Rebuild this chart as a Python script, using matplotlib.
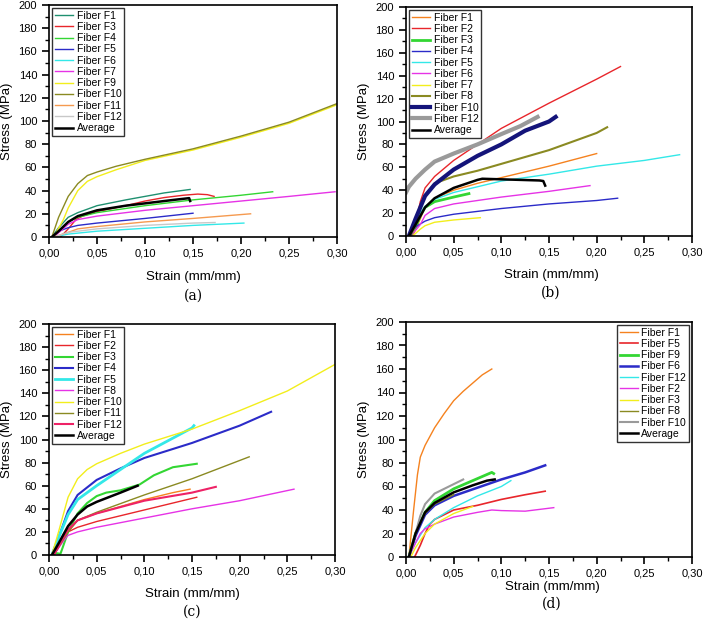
import matplotlib
matplotlib.use("Agg")
import matplotlib.pyplot as plt
from matplotlib.ticker import MultipleLocator, FuncFormatter

plt.rcParams['font.family'] = ['Liberation Sans', 'DejaVu Sans']

# ---------------- Panel (a) ----------------
A_LABELS = ["Fiber F1", "Fiber F3", "Fiber F4", "Fiber F5", "Fiber F6", "Fiber F7",
            "Fiber F9", "Fiber F10", "Fiber F11", "Fiber F12", "Average"]
A_STRAIN = [
    [0.003, 0.01, 0.02, 0.03, 0.05, 0.08, 0.10, 0.12, 0.147],
    [0.012, 0.02, 0.028, 0.035, 0.05, 0.08, 0.10, 0.12, 0.14, 0.155, 0.165, 0.172],
    [0.003, 0.02, 0.03, 0.05, 0.10, 0.15, 0.20, 0.233],
    [0.003, 0.01, 0.02, 0.03, 0.05, 0.10, 0.15],
    [0.005, 0.02, 0.05, 0.10, 0.15, 0.203],
    [0.005, 0.02, 0.03, 0.05, 0.10, 0.15, 0.20, 0.25, 0.298],
    [0.005, 0.015, 0.02, 0.03, 0.04, 0.05, 0.07, 0.10, 0.15, 0.20, 0.25, 0.30],
    [0.003, 0.01, 0.02, 0.03, 0.04, 0.05, 0.07, 0.10, 0.15, 0.20, 0.25, 0.30],
    [0.005, 0.02, 0.03, 0.05, 0.10, 0.15, 0.21],
    [0.005, 0.02, 0.04, 0.05, 0.10, 0.15, 0.173],
    [0.003, 0.01, 0.02, 0.03, 0.05, 0.08, 0.10, 0.13, 0.146, 0.147],
]
A_STRESS = [
    [0, 8, 17, 21, 27, 32, 35, 38, 41],
    [0, 7, 15, 18, 22, 27, 31, 34, 36, 37, 36.5, 35],
    [0, 13, 17, 21, 27, 32, 36, 39],
    [0, 5, 8, 10, 12, 16, 20.5],
    [0, 2.5, 5, 7.5, 10, 12],
    [0, 11, 15, 18, 23, 27, 31, 35, 39],
    [0, 15, 25, 40, 48, 52, 58, 66, 75, 86, 98, 114],
    [0, 17, 35, 46, 53, 56, 61, 67, 76, 87, 99, 115],
    [0, 4, 7, 9, 13, 16, 20],
    [0, 4, 6, 7, 10, 12, 12.5],
    [0, 5, 13, 18, 23, 27, 29, 32, 33.5, 31],
]
A_COLORS = ['#1f9070', '#e8262b', '#33d633', '#2b2bc8', '#33e8e8', '#e633e6',
            '#f2ee1c', '#8a8a22', '#f59a50', '#c8c8c8', '#000000']

# ---------------- Panel (b) ----------------
B_LABELS = ["Fiber F1", "Fiber F2", "Fiber F3", "Fiber F4", "Fiber F5", "Fiber F6",
            "Fiber F7", "Fiber F8", "Fiber F10", "Fiber F12", "Average"]
B_STRAIN = [
    [0.007, 0.015, 0.02, 0.03, 0.05, 0.075, 0.10, 0.15, 0.20],
    [0.005, 0.01, 0.015, 0.02, 0.03, 0.05, 0.075, 0.10, 0.15, 0.20, 0.225],
    [0.005, 0.01, 0.015, 0.02, 0.03, 0.05, 0.066],
    [0.003, 0.01, 0.02, 0.03, 0.05, 0.10, 0.15, 0.20, 0.222],
    [0.005, 0.015, 0.02, 0.03, 0.05, 0.10, 0.15, 0.20, 0.25, 0.287],
    [0.005, 0.015, 0.02, 0.03, 0.05, 0.10, 0.15, 0.193],
    [0.007, 0.015, 0.02, 0.03, 0.05, 0.078],
    [0.005, 0.01, 0.015, 0.02, 0.03, 0.05, 0.075, 0.10, 0.15, 0.20, 0.211],
    [0.003, 0.01, 0.02, 0.03, 0.05, 0.075, 0.10, 0.125, 0.15, 0.157],
    [0.0, 0.003, 0.01, 0.02, 0.03, 0.05, 0.075, 0.10, 0.12, 0.138],
    [0.003, 0.01, 0.02, 0.03, 0.05, 0.075, 0.08, 0.10, 0.12, 0.14, 0.144, 0.146],
]
B_STRESS = [
    [0, 15, 25, 33, 40, 46, 51, 61, 72],
    [0, 10, 30, 42, 52, 66, 80, 94, 116, 137, 148],
    [0, 8, 18, 25, 30, 34, 37],
    [0, 8, 13, 16, 19, 24, 28, 31, 33],
    [0, 20, 26, 32, 38, 48, 54, 61, 66, 71],
    [0, 10, 18, 24, 28, 34, 39, 44],
    [0, 6, 9, 12, 14, 16],
    [0, 10, 25, 35, 46, 52, 57, 63, 75, 90, 95],
    [0, 15, 35, 45, 58, 70, 80, 92, 100, 104],
    [38, 43, 50, 58, 65, 72, 80, 89, 96, 104],
    [0, 10, 25, 33, 42, 49, 50, 49.5, 49, 48.5, 48, 44],
]
B_COLORS = ['#f5821f', '#e8262b', '#33d633', '#2b2bc8', '#33e8e8', '#e633e6',
            '#f2ee1c', '#8a8a22', '#14147a', '#9a9a9a', '#000000']
B_WIDTHS = [1, 1, 2, 1, 1, 1, 1, 1.5, 3, 3, 1.8]

# ---------------- Panel (c) ----------------
C_LABELS = ["Fiber F1", "Fiber F2", "Fiber F3", "Fiber F4", "Fiber F5", "Fiber F8",
            "Fiber F10", "Fiber F11", "Fiber F12", "Average"]
C_STRAIN = [
    [0.005, 0.02, 0.03, 0.05, 0.10, 0.13, 0.148],
    [0.005, 0.015, 0.02, 0.03, 0.05, 0.10, 0.155],
    [0.003, 0.005, 0.012, 0.015, 0.02, 0.03, 0.04, 0.05, 0.06, 0.075, 0.095, 0.11, 0.13, 0.155],
    [0.003, 0.01, 0.02, 0.03, 0.05, 0.075, 0.10, 0.15, 0.20, 0.233],
    [0.003, 0.01, 0.02, 0.03, 0.05, 0.075, 0.10, 0.125, 0.15, 0.152],
    [0.005, 0.015, 0.02, 0.03, 0.05, 0.10, 0.15, 0.20, 0.257],
    [0.003, 0.01, 0.02, 0.03, 0.04, 0.05, 0.075, 0.10, 0.15, 0.20, 0.25, 0.30],
    [0.005, 0.02, 0.03, 0.05, 0.10, 0.15, 0.21],
    [0.005, 0.02, 0.03, 0.05, 0.10, 0.15, 0.175],
    [0.003, 0.01, 0.02, 0.03, 0.04, 0.05, 0.075, 0.093],
]
C_STRESS = [
    [0, 20, 30, 36, 48, 54, 57],
    [0, 15, 20, 24, 29, 39, 50],
    [0, 2, 1, 8, 20, 36, 45, 51, 54, 56, 61, 69, 76, 79],
    [0, 15, 38, 52, 65, 75, 84, 97, 112, 124],
    [0, 15, 35, 48, 60, 74, 88, 99, 110, 112],
    [0, 12, 17, 20, 24, 32, 40, 47, 57],
    [0, 20, 50, 66, 74, 79, 88, 96, 109, 125, 142, 165],
    [0, 20, 30, 37, 52, 66, 85],
    [0, 22, 30, 36, 47, 54, 59],
    [0, 10, 25, 35, 42, 46, 54, 60],
]
C_COLORS = ['#f5821f', '#e8262b', '#33d633', '#2b2bc8', '#33e8e8', '#e633e6',
            '#f2ee1c', '#8a8a22', '#ee2266', '#000000']
C_WIDTHS = [1, 1, 1.5, 1.5, 2, 1, 1, 1, 1.5, 1.8]

# ---------------- Panel (d) ----------------
D_LABELS = ["Fiber F1", "Fiber F5", "Fiber F9", "Fiber F6", "Fiber F12", "Fiber F2",
            "Fiber F3", "Fiber F8", "Fiber F10", "Average"]
D_STRAIN = [
    [0.003, 0.008, 0.012, 0.015, 0.02, 0.03, 0.04, 0.05, 0.06, 0.07, 0.08, 0.09],
    [0.009, 0.015, 0.02, 0.025, 0.03, 0.05, 0.075, 0.10, 0.125, 0.146],
    [0.003, 0.01, 0.02, 0.03, 0.05, 0.07, 0.09, 0.092],
    [0.003, 0.01, 0.02, 0.03, 0.05, 0.075, 0.10, 0.125, 0.146],
    [0.003, 0.01, 0.02, 0.03, 0.05, 0.075, 0.10, 0.11],
    [0.003, 0.01, 0.015, 0.02, 0.03, 0.05, 0.075, 0.09, 0.10, 0.125, 0.14, 0.155],
    [0.005, 0.01, 0.02, 0.03, 0.05, 0.07],
    [0.003, 0.01, 0.02, 0.03, 0.05],
    [0.003, 0.01, 0.015, 0.02, 0.03, 0.04, 0.05, 0.06],
    [0.003, 0.01, 0.02, 0.03, 0.05, 0.07, 0.085, 0.093],
]
D_STRESS = [
    [0, 40, 70, 85, 95, 110, 122, 133, 141, 148, 155, 160],
    [0, 10, 20, 28, 32, 40, 44, 49, 53, 56],
    [0, 20, 38, 48, 58, 65, 72, 71],
    [0, 18, 36, 44, 52, 59, 66, 72, 78],
    [0, 12, 25, 32, 42, 52, 60, 65],
    [0, 12, 20, 24, 28, 34, 38, 40, 39.5, 39, 40.5, 42],
    [0, 8, 20, 28, 37, 43],
    [0, 20, 37, 45, 53],
    [0, 20, 35, 45, 54, 58, 62, 66],
    [0, 20, 38, 46, 55, 61, 65, 66],
]
D_COLORS = ['#f5821f', '#e8262b', '#33d633', '#2b2bc8', '#33e8e8', '#e633e6',
            '#f2ee1c', '#8a8a22', '#9a9a9a', '#000000']
D_WIDTHS = [1, 1.2, 2, 1.8, 1, 1, 1, 1, 1.5, 1.8]

PANEL_TAGS = ["(a)", "(b)", "(c)", "(d)"]

fig = plt.figure(figsize=(7.08, 6.22), dpi=100)
W, H = 708.0, 622.0
boxes = [(49, 5, 337, 237), (406, 7, 692, 236), (49, 324, 335, 555), (406, 322, 692, 557)]
# (x center, y of "Strain" label, y of panel tag) in pixels from top-left
label_pos = [(193, 277, 296), (551, 275, 293), (192, 594, 612), (552, 587, 604)]

panels = [
    (A_LABELS, A_STRAIN, A_STRESS, A_COLORS, [1] * 10 + [1.8], 'upper left'),
    (B_LABELS, B_STRAIN, B_STRESS, B_COLORS, B_WIDTHS, 'upper left'),
    (C_LABELS, C_STRAIN, C_STRESS, C_COLORS, C_WIDTHS, 'upper left'),
    (D_LABELS, D_STRAIN, D_STRESS, D_COLORS, D_WIDTHS, 'upper right'),
]

fmt = FuncFormatter(lambda v, p: ("%.2f" % v).replace('.', ','))

for i, ((l, t, r, b), (labels, xs, ys, cols, lws, loc)) in enumerate(zip(boxes, panels)):
    ax = fig.add_axes([l / W, 1 - b / H, (r - l) / W, (b - t) / H])
    for lab, x, y, c, lw in zip(labels, xs, ys, cols, lws):
        ax.plot(x, y, color=c, lw=lw, label=lab)
    ax.set_xlim(0, 0.30)
    ax.set_ylim(0, 200)
    ax.xaxis.set_major_locator(MultipleLocator(0.05))
    ax.xaxis.set_minor_locator(MultipleLocator(0.025))
    ax.yaxis.set_major_locator(MultipleLocator(20))
    ax.yaxis.set_minor_locator(MultipleLocator(10))
    ax.xaxis.set_major_formatter(fmt)
    ax.tick_params(which='major', direction='out', length=5, width=1.2, labelsize=8)
    ax.tick_params(which='minor', direction='out', length=3, width=1.0)
    for s in ax.spines.values():
        s.set_linewidth(1.2)
    ax.set_ylabel("Stress (MPa)", fontsize=9.5, labelpad=4)
    leg = ax.legend(loc=loc, fontsize=7.5, frameon=True, fancybox=False,
                    edgecolor='black', handlelength=1.8, handletextpad=0.3,
                    labelspacing=0.12, borderpad=0.25, borderaxespad=0.3)
    leg.get_frame().set_linewidth(1.0)
    cx, sy, ty = label_pos[i]
    fig.text(cx / W, 1 - sy / H, "Strain (mm/mm)", ha='center', va='center', fontsize=9.5)
    fig.text(cx / W, 1 - ty / H, PANEL_TAGS[i], ha='center', va='center',
             fontsize=10, family='DejaVu Serif')

fig.savefig("out.png", dpi=100)
